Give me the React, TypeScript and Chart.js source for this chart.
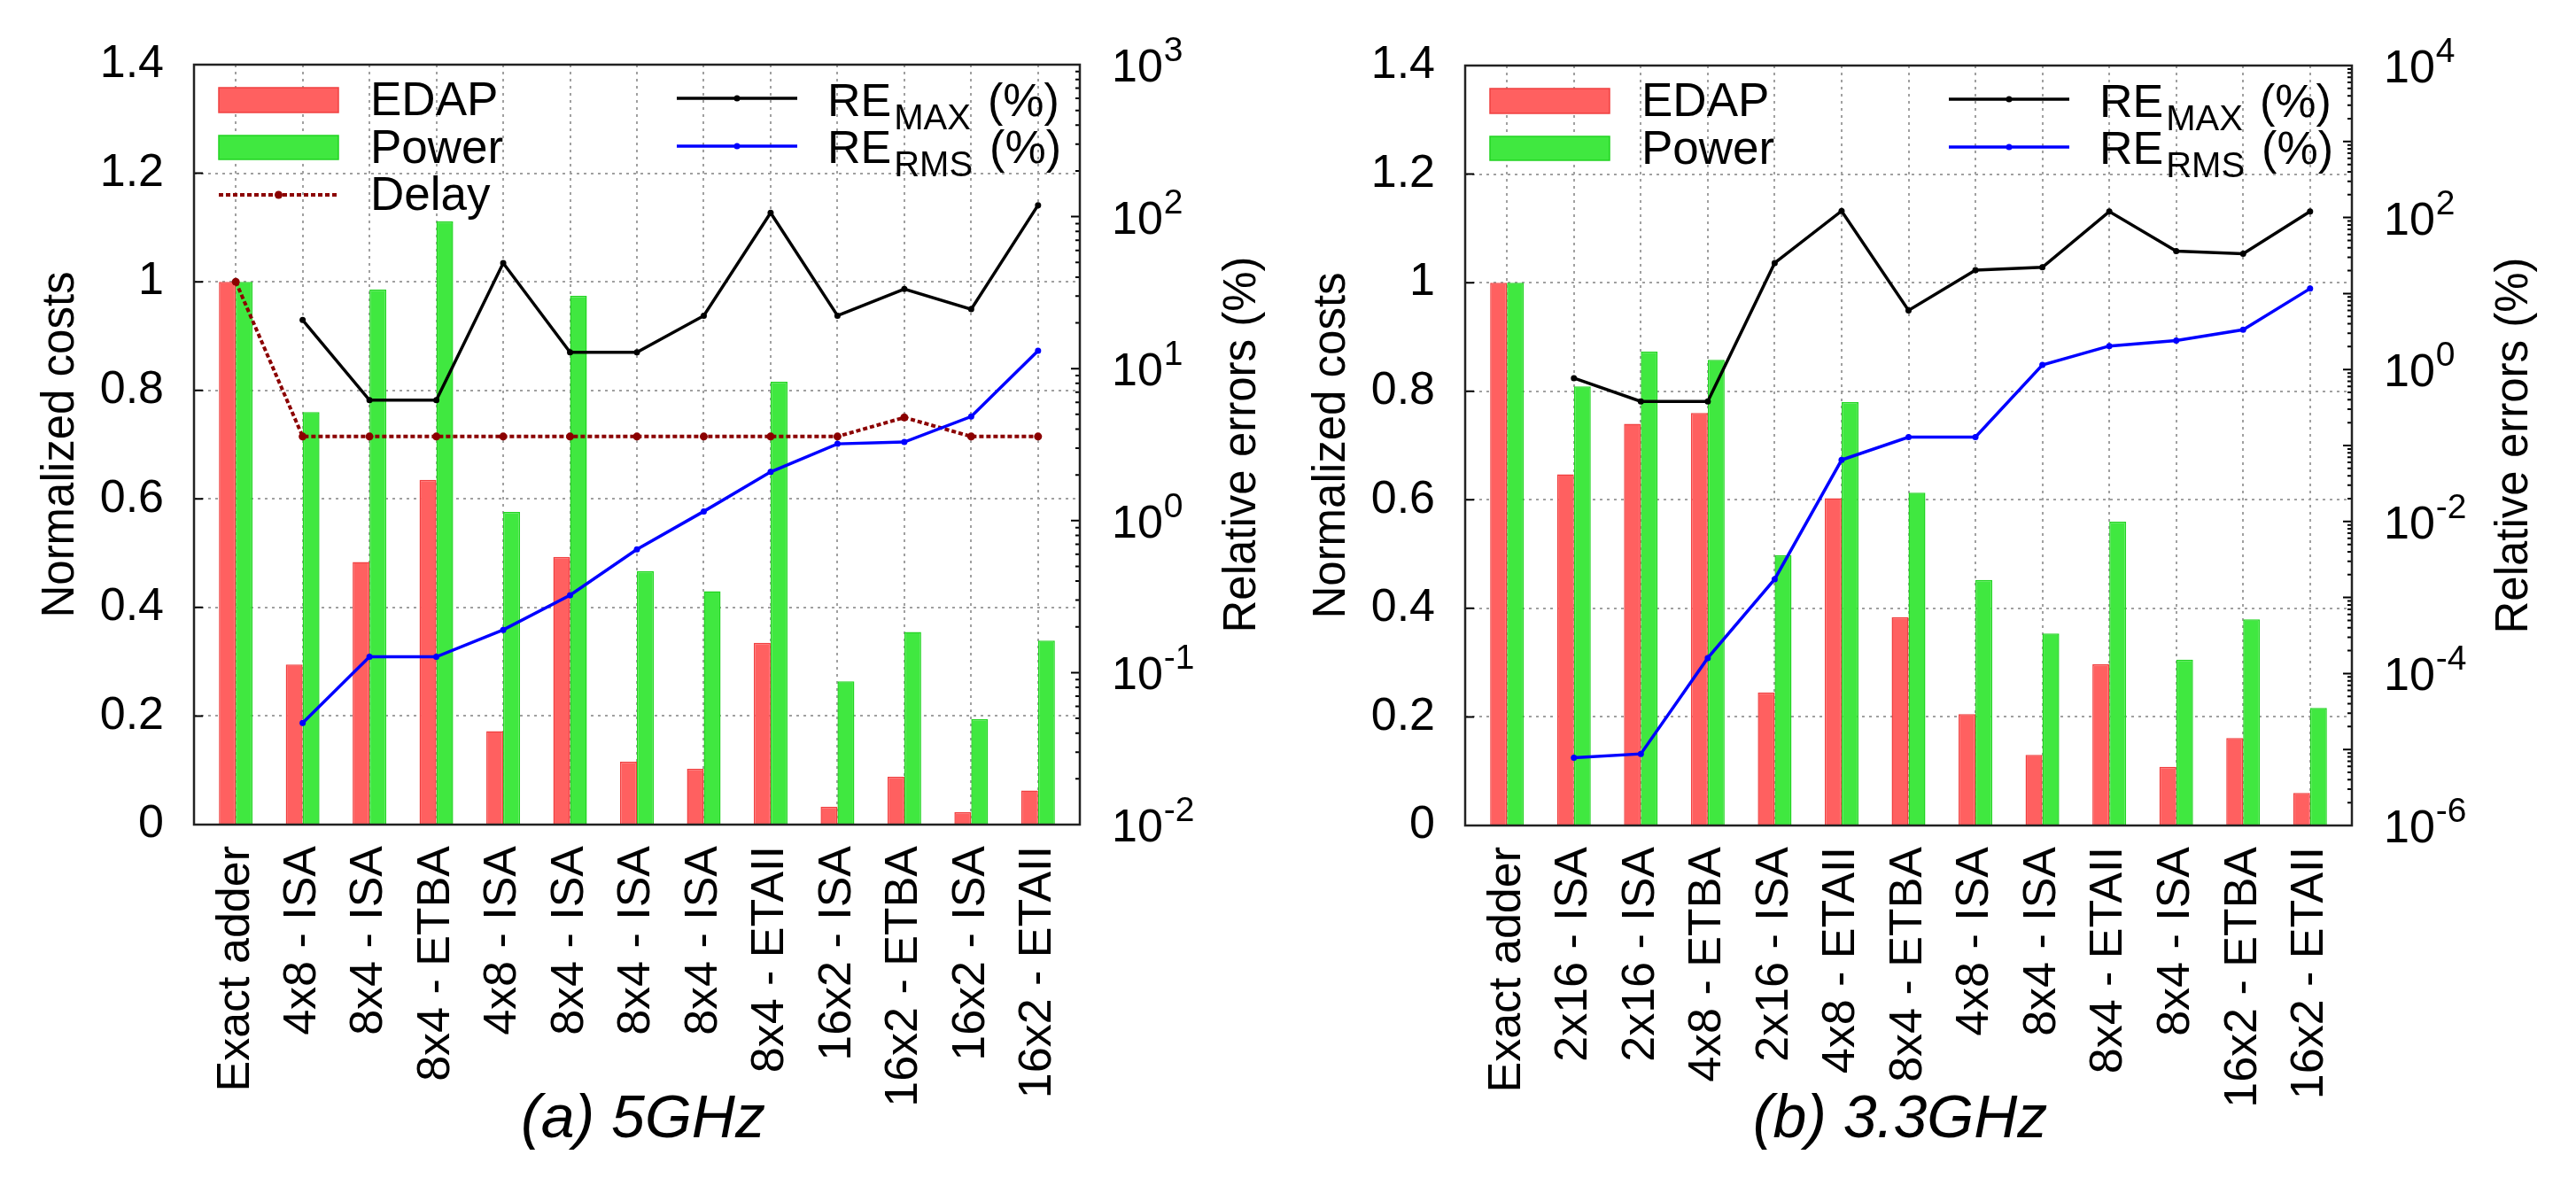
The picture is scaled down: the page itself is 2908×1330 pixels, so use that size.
import React, { useEffect, useRef } from "react";
import { Chart, registerables } from "chart.js";

Chart.register(...registerables);

const FONT = "'Liberation Sans', Arial, Helvetica, sans-serif";

// ---------- (a) 5GHz ----------
const CATEGORIES_A = [
  "Exact adder", "4x8 - ISA", "8x4 - ISA", "8x4 - ETBA", "4x8 - ISA", "8x4 - ISA", "8x4 - ISA",
  "8x4 - ISA", "8x4 - ETAII", "16x2 - ISA", "16x2 - ETBA", "16x2 - ISA", "16x2 - ETAII",
];
const EDAP_A = [1.0, 0.295, 0.484, 0.635, 0.172, 0.493, 0.116, 0.103, 0.335, 0.033, 0.088, 0.023, 0.063];
const POWER_A = [1.0, 0.76, 0.986, 1.111, 0.576, 0.974, 0.467, 0.43, 0.816, 0.264, 0.355, 0.194, 0.339];
const DELAY_A = [1.0, 0.715, 0.715, 0.715, 0.715, 0.715, 0.715, 0.715, 0.715, 0.715, 0.75, 0.715, 0.715];
const REMAX_A = [null, 20.9, 6.2, 6.2, 49.5, 12.8, 12.8, 22.3, 106, 22.3, 33.4, 24.6, 119];
const RERMS_A = [null, 0.0466, 0.127, 0.127, 0.191, 0.323, 0.647, 1.15, 2.09, 3.2, 3.29, 4.84, 13.1];
const LOG_RANGE_A = [-2, 3];
const LOG_LABELS_A = [-2, -1, 0, 1, 2, 3];

// ---------- (b) 3.3GHz ----------
const CATEGORIES_B = [
  "Exact adder", "2x16 - ISA", "2x16 - ISA", "4x8 - ETBA", "2x16 - ISA", "4x8 - ETAII", "8x4 - ETBA",
  "4x8 - ISA", "8x4 - ISA", "8x4 - ETAII", "8x4 - ISA", "16x2 - ETBA", "16x2 - ETAII",
];
const EDAP_B = [1.0, 0.647, 0.74, 0.76, 0.245, 0.603, 0.384, 0.205, 0.13, 0.297, 0.108, 0.161, 0.06];
const POWER_B = [1.0, 0.809, 0.873, 0.858, 0.498, 0.78, 0.613, 0.4525, 0.3535, 0.5595, 0.3057, 0.3796, 0.2168];
const REMAX_B = [null, 0.77, 0.38, 0.38, 25.2, 122, 6.0, 20.3, 22.1, 120, 36.1, 33.3, 120];
const RERMS_B = [null, 7.8e-6, 8.75e-6, 1.6e-4, 1.74e-3, 0.0646, 0.129, 0.129, 1.15, 2.04, 2.4, 3.34, 11.6];
const LOG_RANGE_B = [-6, 4];
const LOG_LABELS_B = [-6, -4, -2, 0, 2, 4];

const COST_MAX = 1.4;
const COST_STEP = 0.2;
const CAPTION_A = "(a) 5GHz";
const CAPTION_B = "(b) 3.3GHz";
const Y_TITLE = "Normalized costs";
const Y1_TITLE = "Relative errors (%)";

// ---------- styling / geometry ----------
const CANVAS_W = 1454;
const CANVAS_H = 1330;
const X_PAD = 0.625;
const RED = "#ff6060";
const RED_EDGE = "#f04040";
const GREEN = "#40e840";
const GREEN_EDGE = "#22d422";
const DELAY_COLOR = "#8b0000";
const BLUE = "#0000ff";
const GRID = "#a0a0a0";

type Plot = { left: number; right: number; top: number; bottom: number };
type Spec = {
  categories: string[];
  edap: number[];
  power: number[];
  delay: number[] | null;
  remax: (number | null)[];
  rerms: (number | null)[];
  logRange: number[];
  logLabels: number[];
  plot: Plot;
};

const SPEC_A: Spec = {
  categories: CATEGORIES_A, edap: EDAP_A, power: POWER_A, delay: DELAY_A,
  remax: REMAX_A, rerms: RERMS_A, logRange: LOG_RANGE_A, logLabels: LOG_LABELS_A,
  plot: { left: 219, right: 1219, top: 73, bottom: 931 },
};
const SPEC_B: Spec = {
  categories: CATEGORIES_B, edap: EDAP_B, power: POWER_B, delay: null,
  remax: REMAX_B, rerms: RERMS_B, logRange: LOG_RANGE_B, logLabels: LOG_LABELS_B,
  plot: { left: 200, right: 1201, top: 74, bottom: 932 },
};

function toPoints(arr: (number | null)[]) {
  const out: { x: number; y: number }[] = [];
  arr.forEach((v, i) => {
    if (v !== null && v !== undefined) out.push({ x: i, y: v });
  });
  return out;
}

function makeDecor(s: Spec) {
  return {
    id: "decor",
    afterDatasetsDraw(chart: any) {
      const { ctx, chartArea: a } = chart;
      const y = chart.scales.y;
      const y1 = chart.scales.y1;
      ctx.save();
      ctx.strokeStyle = "#000";
      ctx.lineWidth = 2;
      ctx.beginPath();
      y.ticks.forEach((t: any) => {
        const p = y.getPixelForValue(t.value);
        ctx.moveTo(a.left, p);
        ctx.lineTo(a.left + 10, p);
      });
      const [lo, hi] = s.logRange;
      for (let e = lo; e <= hi; e++) {
        for (let k = 1; k <= 9; k++) {
          if (e === hi && k > 1) break;
          const p = y1.getPixelForValue(k * Math.pow(10, e));
          const len = k === 1 ? 10 : 5;
          ctx.moveTo(a.right - len, p);
          ctx.lineTo(a.right, p);
        }
      }
      ctx.stroke();
      ctx.strokeStyle = "#222";
      ctx.lineWidth = 2.5;
      ctx.strokeRect(a.left, a.top, a.right - a.left, a.bottom - a.top);
      ctx.restore();
    },
    afterDraw(chart: any) {
      const { ctx, chartArea: a } = chart;
      const y1 = chart.scales.y1;
      ctx.save();
      ctx.fillStyle = "#000";
      ctx.textAlign = "left";
      ctx.textBaseline = "alphabetic";

      // right log-axis labels 10^n
      s.logLabels.forEach((e) => {
        const p = y1.getPixelForValue(Math.pow(10, e));
        ctx.font = `52px ${FONT}`;
        const x0 = a.right + 36;
        ctx.fillText("10", x0, p + 19);
        const w = ctx.measureText("10").width;
        ctx.font = `39px ${FONT}`;
        ctx.fillText(String(e), x0 + w + 1, p - 4);
      });

      // axis titles (both read bottom-to-top)
      const cy = (a.top + a.bottom) / 2;
      ctx.font = `51px ${FONT}`;
      ctx.textAlign = "center";
      ctx.save();
      ctx.translate(a.left - 136, cy);
      ctx.rotate(-Math.PI / 2);
      ctx.fillText(Y_TITLE, 0, 0);
      ctx.restore();
      ctx.save();
      ctx.translate(a.right + 198, cy);
      ctx.rotate(-Math.PI / 2);
      ctx.fillText(Y1_TITLE, 0, 0);
      ctx.restore();

      // left legend
      ctx.textAlign = "left";
      ctx.font = `53px ${FONT}`;
      const sx0 = a.left + 28;
      const sx1 = a.left + 163;
      const tx = a.left + 199;
      const bars = [
        { label: "EDAP", fill: RED, edge: RED_EDGE, y0: 26, y1: 54, base: 57 },
        { label: "Power", fill: GREEN, edge: GREEN_EDGE, y0: 80, y1: 107, base: 111 },
      ];
      bars.forEach((b) => {
        ctx.fillStyle = b.fill;
        ctx.fillRect(sx0, a.top + b.y0, sx1 - sx0, b.y1 - b.y0);
        ctx.strokeStyle = b.edge;
        ctx.lineWidth = 1.5;
        ctx.strokeRect(sx0, a.top + b.y0, sx1 - sx0, b.y1 - b.y0);
        ctx.fillStyle = "#000";
        ctx.fillText(b.label, tx, a.top + b.base);
      });
      if (s.delay) {
        const ly = a.top + 147;
        ctx.save();
        ctx.strokeStyle = DELAY_COLOR;
        ctx.lineWidth = 4;
        ctx.setLineDash([5, 3]);
        ctx.beginPath();
        ctx.moveTo(sx0, ly);
        ctx.lineTo(sx1, ly);
        ctx.stroke();
        ctx.setLineDash([]);
        ctx.fillStyle = DELAY_COLOR;
        ctx.beginPath();
        ctx.arc((sx0 + sx1) / 2, ly, 4.5, 0, Math.PI * 2);
        ctx.fill();
        ctx.restore();
        ctx.fillStyle = "#000";
        ctx.fillText("Delay", tx, a.top + 164);
      }

      // right legend
      const rl0 = a.right - 455;
      const rl1 = a.right - 319;
      const rtx = a.right - 285;
      const lines = [
        { main: "RE", sub: "MAX", color: "#000", ly: 38, base: 58 },
        { main: "RE", sub: "RMS", color: BLUE, ly: 92, base: 111 },
      ];
      lines.forEach((l) => {
        ctx.strokeStyle = l.color;
        ctx.lineWidth = 3.5;
        ctx.beginPath();
        ctx.moveTo(rl0, a.top + l.ly);
        ctx.lineTo(rl1, a.top + l.ly);
        ctx.stroke();
        ctx.fillStyle = l.color;
        ctx.beginPath();
        ctx.arc((rl0 + rl1) / 2, a.top + l.ly, 3.5, 0, Math.PI * 2);
        ctx.fill();
        ctx.fillStyle = "#000";
        ctx.font = `52px ${FONT}`;
        ctx.fillText(l.main, rtx, a.top + l.base);
        const w1 = ctx.measureText(l.main).width;
        ctx.font = `40px ${FONT}`;
        ctx.fillText(l.sub, rtx + w1 + 3, a.top + l.base + 15);
        const w2 = ctx.measureText(l.sub).width;
        ctx.font = `52px ${FONT}`;
        ctx.fillText("(%)", rtx + w1 + 3 + w2 + 19, a.top + l.base);
      });
      ctx.restore();
    },
  };
}

function buildConfig(s: Spec): any {
  const n = s.categories.length;
  const p = s.plot;
  const datasets: any[] = [
    {
      type: "line", label: "RE_MAX (%)", data: toPoints(s.remax), yAxisID: "y1",
      borderColor: "#000", backgroundColor: "#000", borderWidth: 3.5, tension: 0,
      pointRadius: 3.5, pointBorderWidth: 0, pointBackgroundColor: "#000", order: 1,
    },
    {
      type: "line", label: "RE_RMS (%)", data: toPoints(s.rerms), yAxisID: "y1",
      borderColor: BLUE, backgroundColor: BLUE, borderWidth: 3.5, tension: 0,
      pointRadius: 3.5, pointBorderWidth: 0, pointBackgroundColor: BLUE, order: 1,
    },
  ];
  if (s.delay) {
    datasets.push({
      type: "line", label: "Delay", data: toPoints(s.delay), yAxisID: "y",
      borderColor: DELAY_COLOR, backgroundColor: DELAY_COLOR, borderWidth: 4, borderDash: [5, 3],
      tension: 0, pointRadius: 4.5, pointBorderWidth: 0, pointBackgroundColor: DELAY_COLOR, order: 2,
    });
  }
  datasets.push(
    {
      type: "bar", label: "EDAP", data: toPoints(s.edap), yAxisID: "y",
      backgroundColor: RED, borderColor: RED_EDGE, borderWidth: 1.5,
      categoryPercentage: 0.5035, barPercentage: 1, order: 3,
    },
    {
      type: "bar", label: "Power", data: toPoints(s.power), yAxisID: "y",
      backgroundColor: GREEN, borderColor: GREEN_EDGE, borderWidth: 1.5,
      categoryPercentage: 0.5035, barPercentage: 1, order: 3,
    }
  );

  return {
    type: "bar",
    data: { datasets },
    options: {
      responsive: false,
      devicePixelRatio: 1,
      animation: false,
      events: [],
      layout: { padding: { top: p.top, left: 0, right: 0, bottom: 0 } },
      plugins: {
        legend: { display: false },
        tooltip: { enabled: false },
        title: { display: false },
      },
      scales: {
        x: {
          type: "linear",
          position: "bottom",
          min: -X_PAD,
          max: n - 1 + X_PAD,
          offset: false,
          afterBuildTicks: (scale: any) => {
            scale.ticks = s.categories.map((_, i) => ({ value: i }));
          },
          afterFit: (scale: any) => {
            scale.height = CANVAS_H - p.bottom;
          },
          grid: { color: GRID, lineWidth: 2, drawTicks: false, offset: false },
          border: { display: false, dash: [3, 5] },
          ticks: {
            autoSkip: false,
            minRotation: 90,
            maxRotation: 90,
            padding: 24,
            color: "#000",
            font: { family: FONT, size: 52 },
            callback: (v: any) => s.categories[Math.round(v)] ?? "",
          },
        },
        y: {
          type: "linear",
          position: "left",
          min: 0,
          max: COST_MAX,
          afterFit: (scale: any) => {
            scale.width = p.left;
          },
          grid: { color: GRID, lineWidth: 2, drawTicks: false },
          border: { display: false, dash: [3, 5] },
          ticks: {
            stepSize: COST_STEP,
            padding: 34,
            color: "#000",
            font: { family: FONT, size: 52 },
            callback: (v: any) => String(Number(Number(v).toFixed(1))),
          },
        },
        y1: {
          type: "logarithmic",
          position: "right",
          min: Math.pow(10, s.logRange[0]),
          max: Math.pow(10, s.logRange[1]),
          afterFit: (scale: any) => {
            scale.width = CANVAS_W - p.right;
          },
          grid: { display: false, drawOnChartArea: false, drawTicks: false },
          border: { display: false },
          ticks: { display: false },
        },
      },
    },
    plugins: [makeDecor(s)],
  };
}

function ChartPanel({ spec, left }: { spec: Spec; left: number }) {
  const ref = useRef<HTMLCanvasElement | null>(null);
  useEffect(() => {
    if (!ref.current) return;
    const chart = new Chart(ref.current, buildConfig(spec));
    return () => chart.destroy();
  }, [spec]);
  return (
    <canvas
      ref={ref}
      width={CANVAS_W}
      height={CANVAS_H}
      style={{ position: "absolute", left, top: 0, width: CANVAS_W, height: CANVAS_H }}
    />
  );
}

function Caption({ text, cx }: { text: string; cx: number }) {
  return (
    <div
      style={{
        position: "absolute",
        left: cx - 300,
        top: 1226,
        width: 600,
        textAlign: "center",
        fontFamily: FONT,
        fontStyle: "italic",
        fontSize: 68,
        lineHeight: "68px",
        color: "#000",
        whiteSpace: "nowrap",
      }}
    >
      {text}
    </div>
  );
}

export default function App() {
  return (
    <div
      style={{
        position: "absolute",
        left: 0,
        top: 0,
        width: 2908,
        height: 1330,
        background: "#fff",
        overflow: "hidden",
      }}
    >
      <ChartPanel spec={SPEC_A} left={0} />
      <ChartPanel spec={SPEC_B} left={1454} />
      <Caption text={CAPTION_A} cx={726} />
      <Caption text={CAPTION_B} cx={2145} />
    </div>
  );
}
